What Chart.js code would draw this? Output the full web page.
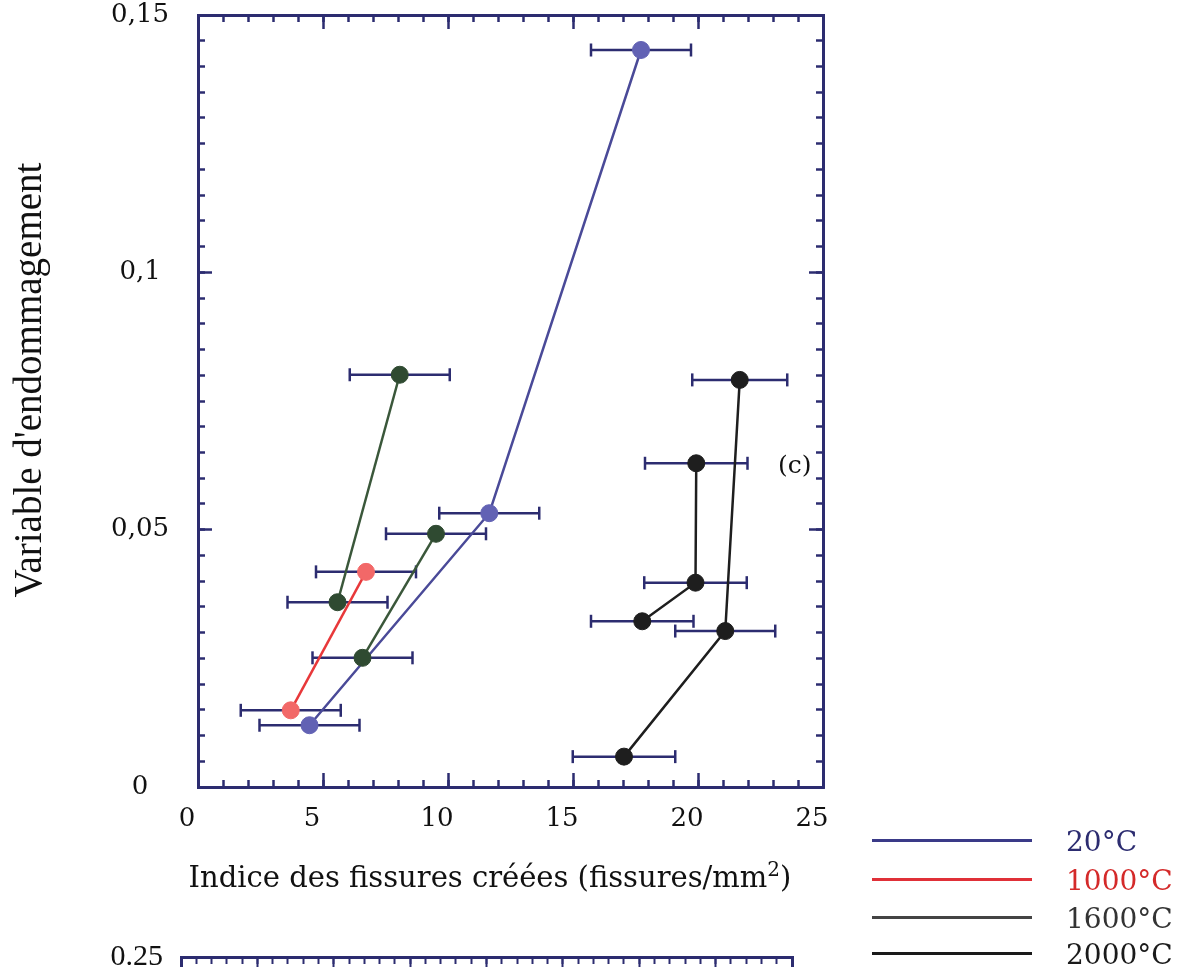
<!DOCTYPE html>
<html>
<head>
<meta charset="utf-8">
<script src="https://cdn.jsdelivr.net/npm/chart.js@4.4.1/dist/chart.umd.min.js"></script>
<style>
  html, body { margin: 0; padding: 0; background: #fff; overflow: hidden; }
  body { width: 1190px; height: 967px; position: relative; font-family: "DejaVu Serif", serif; color: #111; }
  #main { position: absolute; left: 0; top: 0; }
  #next { position: absolute; left: 0; top: 930px; }
  .leg { position: absolute; left: 872px; width: 160px; height: 0; border-top: 3px solid; }
  .legtxt { position: absolute; left: 1066px; font-size: 28px; line-height: 30px; }
  #panel { position: absolute; left: 778px; top: 450px; font-size: 25px; }
  #xtitle { position: absolute; left: 170px; top: 851px; width: 640px; text-align: center;
            font-size: 29px; line-height: 36px; white-space: nowrap; }
  #ytitle { position: absolute; left: -202px; top: 362px; width: 460px; text-align: center;
            font-family: "Liberation Serif", serif; font-size: 39px; line-height: 36px;
            white-space: nowrap; transform: rotate(-90deg); }
</style>
</head>
<body>
<canvas id="main" width="1190" height="967"></canvas>
<canvas id="next" width="1190" height="400"></canvas>
<div id="panel">(c)</div>
<div id="xtitle">Indice des fissures créées (fissures/mm<sup style="font-size:20px">2</sup>)</div>
<div id="ytitle">Variable d'endommagement</div>
<div id="legend"></div>
<script>
// colours
const navy = '#2c2c70';

// legend entries
const seriesNames = ['20°C', '1000°C', '1600°C', '2000°C'];
const seriesLine = ['#4a4a98', '#e8383a', '#3a573a', '#1e1e1e'];
const seriesFill = ['#6262b4', '#f26868', '#2f4a31', '#1e1e1e'];
const legendLine = ['#3a3a88', '#e03038', '#444444', '#1a1a1a'];
const legendText = ['#2c2c70', '#d42a2a', '#333333', '#1a1a1a'];

// 20°C
const blueX = [4.46, 11.65, 17.72];
const blueY = [0.0120, 0.0532, 0.1432];
const blueErr = [2.0, 2.0, 2.0];

// 1000°C
const redX = [3.71, 6.72];
const redY = [0.0149, 0.0418];
const redErr = [2.0, 2.0];

// 1600°C, two specimens
const greenAX = [5.58, 8.07];
const greenAY = [0.0359, 0.0801];
const greenAErr = [2.0, 2.0];
const greenBX = [6.58, 9.52];
const greenBY = [0.0251, 0.0492];
const greenBErr = [2.0, 2.0];

// 2000°C, two specimens
const blackAX = [17.04, 21.09, 21.67];
const blackAY = [0.0059, 0.0303, 0.0791];
const blackAErr = [2.05, 2.0, 1.9];
const blackBX = [17.77, 19.90, 19.93];
const blackBY = [0.0322, 0.0397, 0.0629];
const blackBErr = [2.05, 2.05, 2.05];

// axes
const xTickValues = [0, 5, 10, 15, 20, 25];
const yTickValues = [0, 0.05, 0.1, 0.15];
const yTickLabels = ['0', '0,05', '0,1', '0,15'];

const tickFont = { family: 'DejaVu Serif', size: 26 };

function pts(xs, ys) {
  return xs.map((x, i) => ({ x: x, y: ys[i] }));
}

function series(k, xs, ys) {
  return {
    label: seriesNames[k],
    data: pts(xs, ys),
    showLine: true,
    borderColor: seriesLine[k],
    borderWidth: 2.5,
    pointRadius: 8.5,
    pointBackgroundColor: seriesFill[k],
    pointBorderColor: seriesFill[k],
    pointBorderWidth: 1,
    order: 1
  };
}

function errorBars(xs, ys, errs) {
  return xs.map((x, i) => ({
    data: [{ x: x - errs[i], y: ys[i] }, { x: x + errs[i], y: ys[i] }],
    showLine: true,
    borderColor: navy,
    borderWidth: 2.5,
    pointStyle: 'line',
    rotation: 90,
    pointRadius: 6.5,
    pointBorderColor: navy,
    pointBorderWidth: 2.5,
    order: 2
  }));
}

// tick-only axis; labels and paddings are set by hand
function tickAxis(axis, position, step, len, size, opts) {
  const max = axis === 'x' ? 25 : 0.15;
  return Object.assign({
    type: 'linear',
    axis: axis,
    position: position,
    min: 0,
    max: max,
    ticks: { display: false, stepSize: step },
    grid: { drawOnChartArea: false, drawTicks: true, tickLength: -len, tickColor: navy, tickWidth: 2.5 },
    border: { display: false },
    afterFit: function (s) {
      if (axis === 'x') s.height = size; else s.width = size;
      s.paddingTop = 0; s.paddingBottom = 0;
      s.paddingLeft = 0; s.paddingRight = 0;
    }
  }, opts || {});
}

const datasets = [].concat(
  errorBars(blueX, blueY, blueErr),
  errorBars(redX, redY, redErr),
  errorBars(greenAX, greenAY, greenAErr),
  errorBars(greenBX, greenBY, greenBErr),
  errorBars(blackAX, blackAY, blackAErr),
  errorBars(blackBX, blackBY, blackBErr),
  [
    series(2, greenAX, greenAY),
    series(2, greenBX, greenBY),
    series(0, blueX, blueY),
    series(1, redX, redY),
    series(3, blackAX, blackAY),
    series(3, blackBX, blackBY)
  ]
);

new Chart(document.getElementById('main'), {
  type: 'scatter',
  data: { datasets: datasets },
  options: {
    responsive: false,
    animation: false,
    events: [],
    layout: { padding: 0 },
    plugins: { legend: { display: false }, tooltip: { enabled: false } },
    scales: {
      x: tickAxis('x', 'bottom', 1, 7, 0, { weight: 0 }),
      xMajor: tickAxis('x', 'bottom', 5, 14, 180, {
        weight: 1,
        ticks: {
          display: true, stepSize: 5, padding: 31, labelOffset: -11,
          color: '#111', font: tickFont,
          callback: v => xTickValues.includes(v) ? String(v) : ''
        },
        border: { display: true, color: navy, width: 3 }
      }),
      xTop: tickAxis('x', 'top', 1, 7, 0, { weight: 0 }),
      xTopMajor: tickAxis('x', 'top', 5, 14, 15, {
        weight: 1,
        border: { display: true, color: navy, width: 3 }
      }),
      y: tickAxis('y', 'left', 0.005, 7, 0, { weight: 0 }),
      yMajor: tickAxis('y', 'left', 0.05, 14, 198, {
        weight: 1,
        ticks: {
          display: true, stepSize: 0.05, padding: 43, crossAlign: 'center',
          color: '#111', font: tickFont,
          callback: function (v) {
            const k = yTickValues.findIndex(t => Math.abs(t - v) < 1e-6);
            return k < 0 ? '' : yTickLabels[k];
          }
        },
        border: { display: true, color: navy, width: 3 }
      }),
      yRight: tickAxis('y', 'right', 0.005, 7, 0, { weight: 0 }),
      yRightMajor: tickAxis('y', 'right', 0.05, 14, 367, {
        weight: 1,
        border: { display: true, color: navy, width: 3 }
      })
    }
  }
});

// top edge of the next panel, cut off by the page
function noPad(s) { s.paddingTop = 0; s.paddingBottom = 0; s.paddingLeft = 0; s.paddingRight = 0; }
new Chart(document.getElementById('next'), {
  type: 'scatter',
  data: { datasets: [] },
  options: {
    responsive: false,
    animation: false,
    events: [],
    layout: { padding: { top: 27 } },
    plugins: { legend: { display: false }, tooltip: { enabled: false } },
    scales: {
      x: {
        type: 'linear', position: 'top', min: 0, max: 40,
        ticks: { display: false, stepSize: 1 },
        grid: { drawOnChartArea: false, tickLength: -7, tickColor: navy, tickWidth: 2 },
        border: { display: true, color: navy, width: 3 },
        afterFit: s => { s.height = 0; noPad(s); }
      },
      xMajor: {
        type: 'linear', axis: 'x', position: 'top', min: 0, max: 40,
        ticks: { display: false, stepSize: 5 },
        grid: { drawOnChartArea: false, tickLength: -13, tickColor: navy, tickWidth: 2 },
        border: { display: false },
        afterFit: s => { s.height = 0; noPad(s); }
      },
      y: {
        type: 'linear', position: 'left', min: 0, max: 0.25,
        ticks: {
          stepSize: 0.25, padding: 18, color: '#111',
          font: { family: 'Liberation Serif', size: 30 },
          callback: v => v === 0.25 ? '0.25' : ''
        },
        grid: { drawOnChartArea: false, tickLength: 0 },
        border: { display: true, color: navy, width: 3 },
        afterFit: s => { s.width = 181; noPad(s); }
      },
      yRight: {
        type: 'linear', position: 'right', min: 0, max: 0.25,
        ticks: { display: false },
        grid: { drawOnChartArea: false, tickLength: 0 },
        border: { display: true, color: navy, width: 3 },
        afterFit: s => { s.width = 398; noPad(s); }
      }
    }
  }
});

// legend
const legendLineY = [840, 879, 917, 953];
const legendBox = document.getElementById('legend');
seriesNames.forEach((name, i) => {
  const line = document.createElement('div');
  line.className = 'leg';
  line.style.top = (legendLineY[i] - 1) + 'px';
  line.style.borderColor = legendLine[i];
  legendBox.appendChild(line);
  const txt = document.createElement('div');
  txt.className = 'legtxt';
  txt.style.top = (legendLineY[i] - 13) + 'px';
  txt.style.color = legendText[i];
  txt.textContent = name;
  legendBox.appendChild(txt);
});
</script>
</body>
</html>
